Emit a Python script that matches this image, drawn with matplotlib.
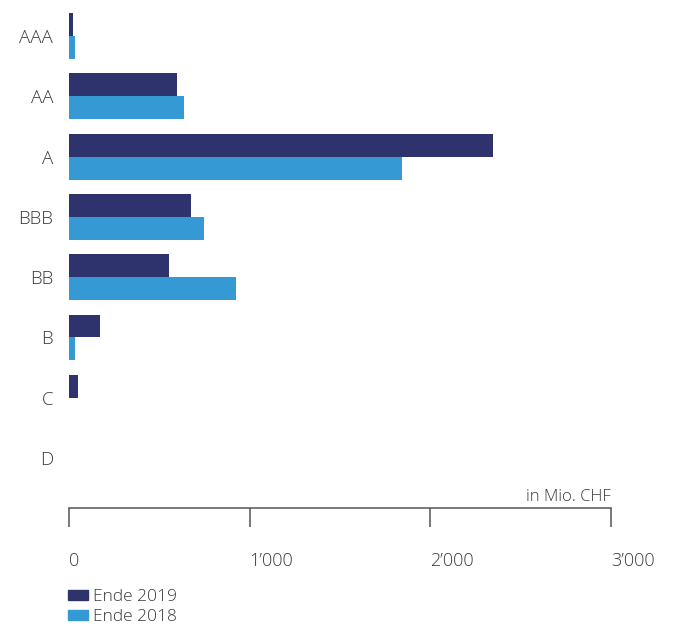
import matplotlib.pyplot as plt
import numpy as np
from matplotlib.patches import Patch

plt.rcParams['font.family'] = ['Open Sans', 'DejaVu Sans']
plt.rcParams['font.weight'] = 'light'

ratings = ['AAA', 'AA', 'A', 'BBB', 'BB', 'B', 'C', 'D']
ende_2019 = [22, 598, 2346, 675, 553, 172, 50, 0]
ende_2018 = [33, 636, 1843, 747, 924, 33, 0, 0]
xticks = [0, 1000, 2000, 3000]
xticklabels = ['0', '1’000', '2’000', '3’000']

navy = '#2e336d'
light = '#3599d4'
textc = '#3a3a3a'

fig = plt.figure(figsize=(6.73, 6.27), dpi=100)
ax = fig.add_axes([69 / 673, 1 - 508 / 627, 542 / 673, 502 / 627])

y = np.arange(len(ratings))
h = 0.38
ax.barh(y - h / 2, ende_2019, height=h, color=navy, label='Ende 2019')
ax.barh(y + h / 2, ende_2018, height=h, color=light, label='Ende 2018')

ax.set_ylim(7.83, -0.5)
ax.set_xlim(0, 3000)
ax.set_yticks(y)
ax.set_yticklabels(ratings, fontsize=13.5, color=textc)
ax.tick_params(axis='y', length=0, pad=11.5)
ax.set_xticks(xticks)
ax.set_xticklabels(xticklabels, fontsize=13, color=textc, ha='left')
ax.tick_params(axis='x', direction='out', length=13.5, width=1.1, color='#555555', pad=18)

for s in ['top', 'left', 'right']:
    ax.spines[s].set_visible(False)
ax.spines['bottom'].set_color('#555555')
ax.spines['bottom'].set_linewidth(1.1)

ax.text(1.0, 1 - 491 / 502, 'in Mio. CHF', transform=ax.transAxes, ha='right', va='center',
        fontsize=12, color=textc)

handles = [Patch(color=navy), Patch(color=light)]
fig.legend(handles, ['Ende 2019', 'Ende 2018'], loc='upper left',
           bbox_to_anchor=(68 / 673, 1 - 589 / 627), frameon=False, fontsize=12.5,
           handlelength=1.15, handleheight=0.5, handletextpad=0.3, labelspacing=0.25,
           borderpad=0, borderaxespad=0, labelcolor=textc)

fig.savefig('out.png', dpi=100)
